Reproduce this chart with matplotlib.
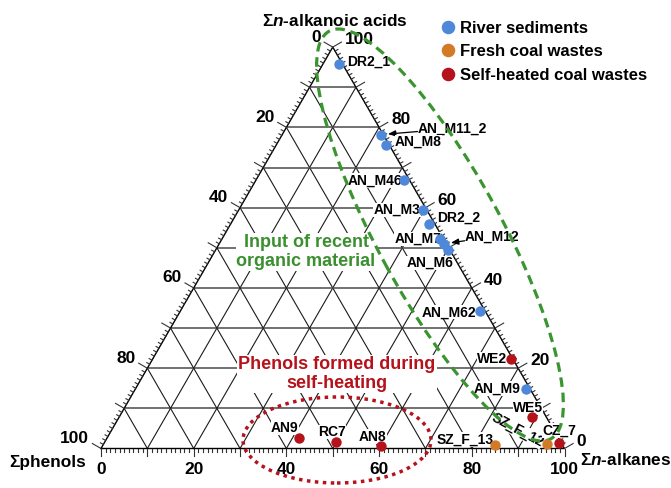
import numpy as np
import matplotlib
matplotlib.use("Agg")
import matplotlib.pyplot as plt
from matplotlib.patches import Ellipse

plt.rcParams['font.family'] = ['Liberation Sans', 'DejaVu Sans']
plt.rcParams['font.weight'] = 'bold'
plt.rcParams['mathtext.fontset'] = 'custom'
plt.rcParams['mathtext.it'] = 'Liberation Sans:italic:bold'
plt.rcParams['mathtext.rm'] = 'Liberation Sans:bold'
plt.rcParams['mathtext.bf'] = 'Liberation Sans:bold'

# ---------------- data (percent: phenols, n-alkanoic acids, n-alkanes) ----------------
river_names   = ["DR2_1", "AN_M11_2", "AN_M8", "AN_M46", "AN_M3", "DR2_2",
                 "AN_M7", "AN_M12", "AN_M6", "AN_M62", "AN_M9"]
river_phenols = [0.9, 0.5, 0.8, 1.3, 0.8, 1.2, 0.7, 0.5, 0.5, 1.2, 0.8]
river_acids   = [95.7, 78.2, 75.6, 66.8, 59.4, 55.9, 52.3, 51.0, 49.4, 34.2, 14.9]
river_alkanes = [3.4, 21.3, 23.6, 31.9, 39.8, 42.9, 47.0, 48.5, 50.1, 64.6, 84.3]

fresh_names   = ["SZ_F_13", "SZ_F_12"]
fresh_phenols = [14.5, 3.1]
fresh_acids   = [0.8, 1.2]
fresh_alkanes = [84.7, 95.7]

heated_names   = ["WE2", "WE5", "CZ_7", "AN9", "RC7", "AN8"]
heated_phenols = [0.3, 3.1, 0.5, 55.9, 48.4, 39.2]
heated_acids   = [22.3, 7.8, 1.3, 2.7, 1.6, 0.7]
heated_alkanes = [77.4, 89.1, 98.2, 41.4, 50.0, 60.1]

axis_labels = [0, 20, 40, 60, 80, 100]

# ---------------- styling ----------------
BLUE, ORANGE, RED = '#4f88d8', '#d27a26', '#b5121b'
GREEN = '#3a9530'
TXT_GREEN = '#3b8f30'

# label placement (pixels: dx, dy up, ha, rotation)
label_pos = {
    "DR2_1": (8.5, 3, 'left', 0),
    "AN_M11_2": (37, 6, 'left', 0),
    "AN_M8": (9.5, 3, 'left', 0),
    "AN_M46": (-1, 0, 'right', 0),
    "AN_M3": (-2.5, 0, 'right', 0),
    "DR2_2": (8, 6, 'left', 0),
    "AN_M7": (1, -0.5, 'right', 0),
    "AN_M12": (21, 7, 'left', 0),
    "AN_M6": (-18, -13, 'center', 0),
    "AN_M62": (-4, -1, 'right', 0),
    "WE2": (-4, 0, 'right', 0),
    "AN_M9": (-6, 0, 'right', 0),
    "WE5": (-4, 9, 'center', 0),
    "SZ_F_12": (-30, 14, 'center', -28),
    "CZ_7": (0, 13, 'center', 0),
    "SZ_F_13": (-2, 6, 'right', 0),
    "AN9": (-14.5, 10, 'center', 0),
    "RC7": (-4.5, 10, 'center', 0),
    "AN8": (-8.5, 9, 'center', 0),
}
arrow_labels = {"AN_M11_2", "AN_M12"}

W, H = 671, 488
X0, Y0 = 101.0, 448.5   # pixel position of the phenol (left) vertex
S = 4.635               # pixels per percent unit
h = np.sqrt(3) / 2

fig = plt.figure(figsize=(W / 100, H / 100), dpi=100)
ax = fig.add_axes([0, 0, 1, 1])
ax.set_xlim(-X0 / S, (W - X0) / S)
ax.set_ylim(-(H - Y0) / S, Y0 / S)
ax.axis('off')


def u(pxl):
    return pxl / S


def P2D(xp, yp):
    return (xp - X0) / S, (Y0 - yp) / S


def tern(p, a, k):
    p, a, k = (np.asarray(v, dtype=float) for v in (p, a, k))
    tot = p + a + k
    a = 100 * a / tot
    k = 100 * k / tot
    return k + a / 2, a * h


# ---------------- grid ----------------
for v in range(10, 100, 10):
    x, y = tern([100 - v, 0], [v, v], [0, 100 - v])
    ax.plot(x, y, color='#4a4a4a', lw=1.1, zorder=1, solid_capstyle='butt')
    x, y = tern([100 - v, 0], [0, 100 - v], [v, v])
    ax.plot(x, y, color='#1a1a1a', lw=0.8, zorder=1)
    x, y = tern([v, v], [0, 100 - v], [100 - v, 0])
    ax.plot(x, y, color='#1a1a1a', lw=0.8, zorder=1)

# triangle edges
x, y = tern([100, 0, 0, 100], [0, 100, 0, 0], [0, 0, 100, 0])
ax.plot(x, y, color='black', lw=1.0, zorder=2.5, solid_joinstyle='miter')

# ---------------- ticks and tick labels ----------------
dl = np.array([-np.cos(np.pi / 6), np.sin(np.pi / 6)])
dr = np.array([np.cos(np.pi / 6), np.sin(np.pi / 6)])
for v in range(0, 101):
    major = v % 10 == 0
    # bottom (alkanes)
    bx, by = tern(100 - v, 0, v)
    lb = 7 if major else 3.3
    ax.plot([bx, bx], [by, by - u(lb)], color='#333333', lw=0.8, zorder=2.5)
    # left (phenols)
    lx, ly = tern(v, 100 - v, 0)
    ll = 10 if major else 3.3
    ax.plot([lx, lx + dl[0] * u(ll)], [ly, ly + dl[1] * u(ll)],
            color='#333333', lw=0.8, zorder=2.5)
    # right (alkanoic acids)
    rx, ry = tern(0, v, 100 - v)
    ax.plot([rx, rx + dr[0] * u(ll)], [ry, ry + dr[1] * u(ll)],
            color='#333333', lw=0.8, zorder=2.5)
    if v in axis_labels:
        ax.text(bx, -u(21.5), str(v), ha='center', va='center', fontsize=12.5,
                fontweight='bold')
        ex, ey = lx + dl[0] * u(10), ly + dl[1] * u(10)
        ax.text(ex - u(3), ey + u(5), str(v), ha='right', va='center',
                fontsize=12.5, fontweight='bold')
        ex, ey = rx + dr[0] * u(10), ry + dr[1] * u(10)
        ax.text(ex + u(3.5), ey + u(2.5), str(v), ha='left', va='center',
                fontsize=12.5, fontweight='bold')

# axis titles
ax.text(*P2D(335, 21), 'Σ$n$-alkanoic acids', ha='center', va='center',
        fontsize=12.4, fontweight='bold')
ax.text(*P2D(86, 462), 'Σphenols', ha='right', va='center',
        fontsize=12.4, fontweight='bold')
ax.text(*P2D(580, 460), 'Σ$n$-alkanes', ha='left', va='center',
        fontsize=12.4, fontweight='bold')

# ---------------- interpretation zones ----------------
ax.text(*P2D(306, 252), 'Input of recent\norganic material', ha='center',
        va='center', fontsize=13, fontweight='bold', color=TXT_GREEN,
        linespacing=1.1, zorder=2,
        bbox=dict(boxstyle='square,pad=0.05', fc='white', ec='none'))
ax.text(*P2D(337, 374), 'Phenols formed during\nself-heating', ha='center',
        va='center', fontsize=13, fontweight='bold', color=RED,
        linespacing=1.15, zorder=2,
        bbox=dict(boxstyle='square,pad=0.05', fc='white', ec='none'))

ax.add_patch(Ellipse(P2D(440, 235), width=u(464), height=u(124), angle=-61.5,
                     fill=False, ec=GREEN, lw=2.3, ls=(0, (3, 1.8)),
                     zorder=4, clip_on=False))
ax.add_patch(Ellipse(P2D(337, 440), width=u(188), height=u(86), angle=0,
                     fill=False, ec=RED, lw=2.5, ls=(0, (1, 1.3)),
                     zorder=4, clip_on=False))

# ---------------- points ----------------
groups = [
    ("River sediments", BLUE, river_names, river_phenols, river_acids, river_alkanes),
    ("Fresh coal wastes", ORANGE, fresh_names, fresh_phenols, fresh_acids, fresh_alkanes),
    ("Self-heated coal wastes", RED, heated_names, heated_phenols, heated_acids, heated_alkanes),
]
handles = []
for label, col, names, p, a, k in groups:
    x, y = tern(p, a, k)
    hd, = ax.plot(x, y, 'o', ms=7.5, color=col, mec='none', zorder=6,
                  label=label)
    handles.append(hd)
    for nm, xi, yi in zip(names, x, y):
        dx, dy, ha, rot = label_pos[nm]
        kw = dict(xy=(xi, yi), xytext=(dx * 0.72, dy * 0.72),
                  textcoords='offset points', ha=ha, va='center',
                  fontsize=10, fontweight='bold', rotation=rot, zorder=3,
                  rotation_mode='anchor',
                  bbox=dict(boxstyle='square,pad=0.02', fc='white', ec='none'))
        if nm in arrow_labels:
            kw['arrowprops'] = dict(arrowstyle='-|>,head_length=0.45,head_width=0.18',
                                    color='black', lw=0.9, shrinkA=0, shrinkB=5)
        ax.annotate(nm, **kw)

leg = ax.legend(handles=handles, loc='upper left',
                bbox_to_anchor=(441.3 / W, 1 - 21 / H), bbox_transform=fig.transFigure,
                frameon=False, borderpad=0, borderaxespad=0,
                handlelength=0.8, handletextpad=0.32, labelspacing=0.5,
                markerscale=1.3, prop={'weight': 'bold', 'size': 12})

fig.savefig('out.png', dpi=100)
